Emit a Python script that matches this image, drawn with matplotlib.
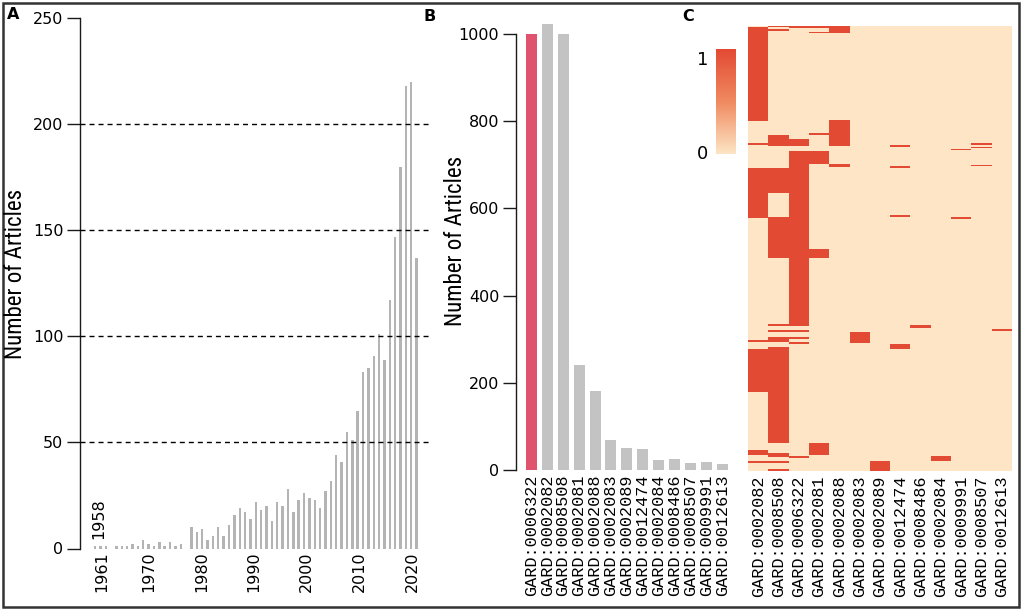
import matplotlib
matplotlib.use('Agg')
import matplotlib.pyplot as plt
import numpy as np
from matplotlib import font_manager
from matplotlib.colors import ListedColormap, LinearSegmentedColormap
from matplotlib.patches import Rectangle

# ---------------- data ----------------
a_years = ['1958'] + [str(y) for y in range(1961, 2021)]
a_counts = [1, 1, 1, 0, 1, 1, 1, 2, 1, 4,
            2, 1, 3, 1, 3, 1, 2, 0, 10, 8,
            9, 4, 6, 10, 6, 11, 16, 19, 17, 14,
            22, 18, 20, 13, 22, 20, 28, 17, 23, 26,
            24, 23, 19, 27, 32, 44, 41, 55, 51, 65,
            83, 85, 91, 101, 89, 117, 147, 180, 218, 220,
            137]
a_tick_years = [1961, 1970, 1980, 1990, 2000, 2010, 2020]
a_grid = [50, 100, 150, 200]

b_labels = ['GARD:0006322', 'GARD:0002082', 'GARD:0008508', 'GARD:0002081',
            'GARD:0002088', 'GARD:0002083', 'GARD:0002089', 'GARD:0012474',
            'GARD:0002084', 'GARD:0008486', 'GARD:0008507', 'GARD:0009991',
            'GARD:0012613']
b_values = [1000, 1024, 1000, 240, 182, 68, 50, 48, 23, 26, 16, 19, 14]
b_highlight = 'GARD:0006322'

c_labels = ['GARD:0002082', 'GARD:0008508', 'GARD:0006322', 'GARD:0002081',
            'GARD:0002088', 'GARD:0002083', 'GARD:0002089', 'GARD:0012474',
            'GARD:0008486', 'GARD:0002084', 'GARD:0009991', 'GARD:0008507',
            'GARD:0012613']
c_nrows = 445
# (column, first row, last row) of cells equal to 1
c_spans = [
    (0, 1, 95), (0, 117, 119), (0, 142, 192), (0, 314, 316), (0, 323, 366),
    (0, 424, 429), (0, 435, 437),
    (1, 0, 1), (1, 3, 5), (1, 109, 120), (1, 142, 167), (1, 191, 232),
    (1, 298, 300), (1, 304, 306), (1, 311, 316), (1, 321, 417), (1, 427, 431),
    (1, 435, 437), (1, 443, 445),
    (2, 0, 2), (2, 113, 120), (2, 125, 300), (2, 304, 306), (2, 311, 313),
    (2, 316, 318), (2, 430, 432),
    (3, 0, 2), (3, 6, 7), (3, 107, 109), (3, 125, 138), (3, 223, 232), (3, 417, 429),
    (4, 0, 7), (4, 94, 120), (4, 138, 141),
    (5, 306, 317),
    (6, 435, 445),
    (7, 119, 121), (7, 140, 142), (7, 189, 191), (7, 318, 323),
    (8, 299, 302),
    (9, 430, 435),
    (10, 123, 124), (10, 191, 193),
    (11, 117, 119), (11, 121, 122), (11, 139, 140),
    (12, 303, 305),
]

# ---------------- styling ----------------
W, H = 1021, 610
fig = plt.figure(figsize=(W / 100, H / 100), dpi=100)
names = {f.name for f in font_manager.fontManager.ttflist}
ylab_family, ylab_size = 'Liberation Sans', 14.5
for fam, size in [('Liberation Sans Narrow', 17.5), ('Roboto Condensed', 16.5),
                  ('Open Sans Condensed', 16.5), ('Noto Sans Condensed', 15.5),
                  ('DejaVu Sans Condensed', 14.0)]:
    if fam in names:
        ylab_family, ylab_size = fam, size
        break
mono = 'Liberation Mono' if 'Liberation Mono' in names else 'DejaVu Sans Mono'
TICK_FS = 11.5
SPINE = '#1a1a1a'


def ax_px(x0, y0, x1, y1):
    return fig.add_axes([x0 / W, 1 - y1 / H, (x1 - x0) / W, (y1 - y0) / H])


def style_left(ax):
    for s in ['top', 'right', 'bottom']:
        ax.spines[s].set_visible(False)
    ax.spines['left'].set_color(SPINE)
    ax.spines['left'].set_linewidth(1.0)
    ax.tick_params(axis='y', length=9.5, width=1.0, color=SPINE, pad=2.5,
                   labelsize=TICK_FS)
    ax.tick_params(axis='x', length=0)


# ---------------- panel A ----------------
axA = ax_px(80, 18.3, 432, 548.5)
xA = np.arange(len(a_years))
axA.bar(xA, a_counts, width=0.45, color='#b4b4b4', zorder=2)
for g in a_grid:
    axA.axhline(g, color='black', lw=1.0, ls=(0, (3.6, 2.9)), zorder=3)
axA.set_xlim(-2.8, 62.87)
axA.set_ylim(0, 250)
axA.set_yticks([0, 50, 100, 150, 200, 250])
style_left(axA)
a_tick_pos = [10.07 + (y - 1970) * 0.981 for y in a_tick_years]
axA.set_xticks(a_tick_pos)
axA.set_xticklabels([str(y) for y in a_tick_years], rotation=90, fontsize=TICK_FS)
axA.tick_params(axis='x', pad=2)
axA.annotate(a_years[0], xy=(0, 0), xytext=(3, 7), textcoords='offset points',
             rotation=90, ha='center', va='bottom', fontsize=TICK_FS)
fig.text(16 / W, 1 - 274 / H, 'Number of Articles', rotation=90, ha='center',
         va='center', fontsize=ylab_size, family=ylab_family)

# ---------------- panel B ----------------
axB = ax_px(516, 34, 740, 470)
xB = np.arange(len(b_labels))
colsB = ['#e0536f' if l == b_highlight else '#c3c3c3' for l in b_labels]
axB.bar(xB, b_values, width=0.69, color=colsB, clip_on=False, zorder=2)
axB.set_xlim(-0.953, 13.09)
axB.set_ylim(0, 1000)
axB.set_yticks([0, 200, 400, 600, 800, 1000])
style_left(axB)
axB.set_xticks(xB)
axB.set_xticklabels(b_labels, rotation=90, family=mono, fontsize=12.2)
axB.tick_params(axis='x', pad=3.5)
fig.text(455 / W, 1 - 241 / H, 'Number of Articles', rotation=90, ha='center',
         va='center', fontsize=ylab_size, family=ylab_family)

# ---------------- panel C ----------------
TAN, RED = '#fde5c5', '#e34a33'
mat = np.zeros((c_nrows, len(c_labels)))
for c, r0, r1 in c_spans:
    mat[r0:r1, c] = 1
axC = ax_px(748, 26, 1012, 471)
axC.imshow(mat, aspect='auto', interpolation='nearest',
           cmap=ListedColormap([TAN, RED]), vmin=0, vmax=1,
           extent=(-0.5, len(c_labels) - 0.5, c_nrows, 0))
for s in axC.spines.values():
    s.set_visible(False)
axC.set_yticks([])
axC.set_xticks(np.arange(len(c_labels)))
axC.set_xticklabels(c_labels, rotation=90, family=mono, fontsize=12.2)
axC.tick_params(axis='x', length=0, pad=3)

# colour bar
axCB = ax_px(716, 49.3, 736, 154)
grad = np.linspace(0, 1, 256)[:, None]
axCB.imshow(grad, aspect='auto', origin='lower',
            cmap=LinearSegmentedColormap.from_list('c', [TAN, '#f08a60', RED]),
            extent=(0, 1, -0.02, 1.09))
axCB.set_xlim(0, 1)
axCB.set_ylim(-0.02, 1.09)
for s in axCB.spines.values():
    s.set_visible(False)
axCB.set_xticks([])
axCB.set_yticks([0, 1])
axCB.set_yticklabels(['0', '1'], fontsize=13)
axCB.tick_params(axis='y', length=0, pad=5.5)

# ---------------- panel letters and frame ----------------
for lab, x, y in [('A', 7, 7), ('B', 423, 9), ('C', 682, 9)]:
    fig.text(x / W, 1 - y / H, lab, ha='left', va='top', fontsize=11.5,
             fontweight='bold')
fig.add_artist(Rectangle((2.5 / W, 3.5 / H), (W - 5) / W, (H - 6) / H,
                         transform=fig.transFigure, fill=False,
                         edgecolor='#333333', lw=1.8))

fig.savefig('out.png', dpi=100)
